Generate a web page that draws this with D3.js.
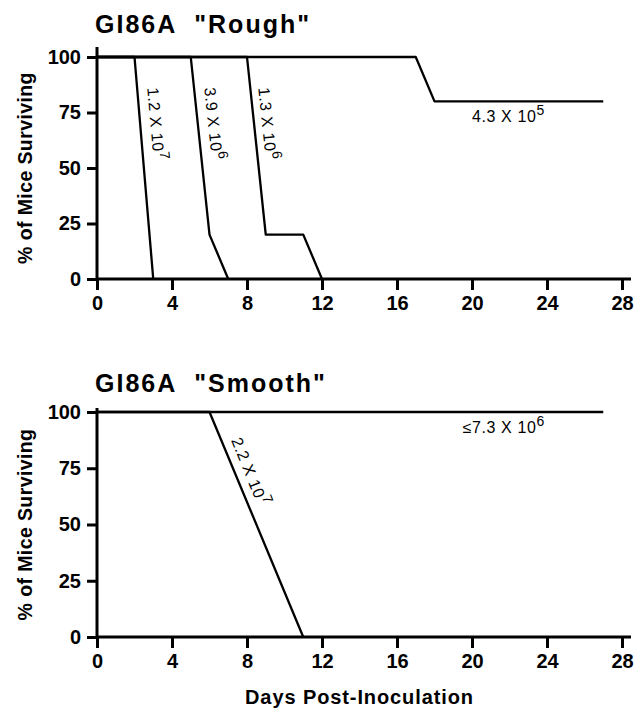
<!DOCTYPE html>
<html>
<head>
<meta charset="utf-8">
<script src="https://d3js.org/d3.v7.min.js"></script>
<style>
  body { margin: 0; background: #fff; }
  svg { display: block; font-family: "Liberation Sans", Arial, sans-serif; }
  .axis path, .axis line { stroke: #000; stroke-width: 3; }
  .axis text { font-size: 20px; font-weight: bold; fill: #000; }
  .curve { fill: none; stroke: #000; stroke-width: 2.3; stroke-linejoin: round; }
  .dose { font-size: 16px; fill: #000; letter-spacing: 0.6px; }
  .title { font-size: 25px; font-weight: bold; letter-spacing: 2px; white-space: pre; }
  .ylab { font-size: 19.5px; font-weight: bold; letter-spacing: 0.4px; }
  .xlab { font-size: 20px; font-weight: bold; letter-spacing: 0.9px; }
</style>
</head>
<body>
<script>
// tick labels
var xTicks = [0, 4, 8, 12, 16, 20, 24, 28];
var yTicks = [0, 25, 50, 75, 100];

// G186A "Rough" - days and % surviving for each dose
var roughDoses = [["1.2 X 10", "7"], ["3.9 X 10", "6"], ["1.3 X 10", "6"], ["4.3 X 10", "5"]];
var roughDays = [[0, 2, 3], [0, 5, 6, 7], [0, 8, 9, 11, 12], [0, 17, 18, 27]];
var roughSurv = [[100, 100, 0], [100, 100, 20, 0], [100, 100, 20, 20, 0], [100, 100, 80, 80]];

// G186A "Smooth"
var smoothDoses = [["2.2 X 10", "7"], ["\u22647.3 X 10", "6"]];
var smoothDays = [[0, 6, 11], [0, 27]];
var smoothSurv = [[100, 100, 0], [100, 100]];

var W = 642, H = 711;
var svg = d3.select("body").append("svg").attr("width", W).attr("height", H);

function panel(cfg) {
  var x = d3.scaleLinear().domain([0, 28]).range([97, 622]);
  var y = d3.scaleLinear().domain([0, 100]).range([cfg.bottom, cfg.top]);
  var g = svg.append("g");

  // axes
  var xa = g.append("g").attr("class", "axis")
    .attr("transform", "translate(0," + cfg.bottom + ")")
    .call(d3.axisBottom(x).tickValues(xTicks).tickSize(11).tickPadding(6).tickSizeOuter(0));
  xa.select(".domain").attr("d", "M" + x(0) + ",0H" + (x(28) + 9));
  var ya = g.append("g").attr("class", "axis")
    .attr("transform", "translate(97,0)")
    .call(d3.axisLeft(y).tickValues(yTicks).tickSize(10).tickPadding(6).tickSizeOuter(0));
  ya.select(".domain").attr("d", "M0," + (y(100) - cfg.ext) + "V" + y(0));

  g.append("text").attr("class", "title")
    .attr("x", 95).attr("y", cfg.titleY)
    .text(cfg.title);

  g.append("text").attr("class", "ylab")
    .attr("transform", "translate(32," + y(50) + ") rotate(-90)")
    .attr("text-anchor", "middle")
    .text("% of Mice Surviving");

  var line = d3.line().x(function (d) { return x(d[0]); }).y(function (d) { return y(d[1]); });
  cfg.days.forEach(function (ds, i) {
    var pts = ds.map(function (d, j) { return [d, cfg.surv[i][j]]; });
    g.append("path").attr("class", "curve").attr("d", line(pts));
  });

  cfg.labels.forEach(function (lb, i) {
    var t = g.append("text").attr("class", "dose")
      .attr("transform", "translate(" + x(lb[0]) + "," + y(lb[1]) + ") rotate(" + lb[2] + ")");
    t.append("tspan").text(cfg.doses[i][0]);
    t.append("tspan").attr("dy", -7).attr("font-size", 14).text(cfg.doses[i][1]);
  });
  return x;
}

panel({
  title: "GI86A  \"Rough\"", top: 57, bottom: 279, ext: 10, titleY: 33,
  days: roughDays, surv: roughSurv, doses: roughDoses,
  labels: [[2.68, 86, 85], [5.72, 86, 84], [8.6, 86, 84], [20.0, 70.5, 0]]
});
var xs = panel({
  title: "GI86A  \"Smooth\"", top: 412, bottom: 637, ext: 4, titleY: 392,
  days: smoothDays, surv: smoothSurv, doses: smoothDoses,
  labels: [[7.15, 87.5, 68], [19.5, 90.5, 0]]
});

svg.append("text").attr("class", "xlab")
  .attr("x", (xs(0) + xs(28)) / 2).attr("y", 704)
  .attr("text-anchor", "middle")
  .text("Days Post-Inoculation");
</script>
</body>
</html>
